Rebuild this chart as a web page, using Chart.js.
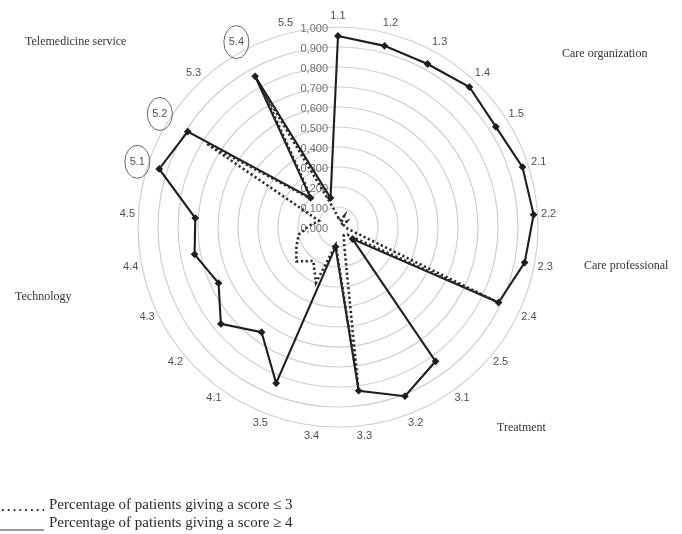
<!DOCTYPE html>
<html><head><meta charset="utf-8">
<script src="https://cdn.jsdelivr.net/npm/chart.js@4/dist/chart.umd.min.js"></script>
<style>html,body{margin:0;padding:0;background:#fff;} #wrap{width:682px;height:534px;position:relative;}</style>
</head><body><div id="wrap"><canvas id="c"></canvas></div>
<script>
const categories = ['1.1','1.2','1.3','1.4','1.5','2.1','2.2','2.3','2.4','2.5','3.1','3.2','3.3','3.4','3.5','4.1','4.2','4.3','4.4','4.5','5.1','5.2','5.3','5.4','5.5'];
const scoreLow  = [0.05,0.03,0.06,0.02,0.05,0.03,0.04,0.05,0.87,0.06,0.05,0.08,0.80,0.09,0.30,0.21,0.27,0.23,0.20,0.14,0.10,0.78,0.19,0.78,0.10];
const scoreHigh = [0.955,0.935,0.93,0.96,0.935,0.97,0.98,0.95,0.887,0.095,0.83,0.91,0.825,0.10,0.84,0.65,0.76,0.66,0.73,0.715,0.94,0.89,0.20,0.86,0.15];
const tickValues = [0,0.1,0.2,0.3,0.4,0.5,0.6,0.7,0.8,0.9,1.0];
const tickLabels = ['0,000','0,100','0,200','0,300','0,400','0,500','0,600','0,700','0,800','0,900','1,000'];
const circledLabels = ['5.1','5.2','5.4'];
const groupNames = ['Care organization','Care professional','Treatment','Technology','Telemedicine service'];
const legendLabels = ['Percentage of patients giving a score \u2264 3','Percentage of patients giving a score \u2265 4'];

const groupPos = [[562,54],[584,266],[497,428],[15,297],[25,42]];

const overlay = {
  id: 'overlay',
  beforeDatasetsDraw(chart) {
    const ctx = chart.ctx, r = chart.scales.r;
    ctx.save();
    ctx.font = '11px "Liberation Sans", Arial, sans-serif';
    ctx.fillStyle = '#707070';
    ctx.textAlign = 'right';
    ctx.textBaseline = 'middle';
    tickValues.forEach((v, i) => {
      const d = r.getDistanceFromCenterForValue(v);
      ctx.fillText(tickLabels[i], r.xCenter - 10, r.yCenter - d + 2);
    });
    ctx.restore();
  },
  afterDraw(chart) {
    const ctx = chart.ctx, r = chart.scales.r;
    ctx.save();
    ctx.font = '11px "Liberation Sans", Arial, sans-serif';
    ctx.fillStyle = '#505050';
    ctx.textAlign = 'center';
    ctx.textBaseline = 'middle';
    ctx.strokeStyle = '#666';
    ctx.lineWidth = 1;
    categories.forEach((lab, i) => {
      const p = r.getPointPosition(i, r.drawingArea + 11);
      ctx.fillText(lab, p.x, p.y);
      if (circledLabels.includes(lab)) {
        ctx.beginPath();
        ctx.ellipse(p.x, p.y, 12.5, 16.5, 0, 0, Math.PI * 2);
        ctx.stroke();
      }
    });
    ctx.font = '12px "Liberation Serif", "Times New Roman", serif';
    ctx.fillStyle = '#333';
    ctx.textAlign = 'left';
    groupNames.forEach((g, i) => ctx.fillText(g, groupPos[i][0], groupPos[i][1]));
    // legend
    ctx.font = '15px "Liberation Serif", "Times New Roman", serif';
    ctx.fillStyle = '#2a2a2a';
    ctx.fillText(legendLabels[0], 49, 505);
    ctx.fillText(legendLabels[1], 49, 523);
    ctx.strokeStyle = '#333';
    ctx.lineWidth = 1.8;
    ctx.setLineDash([1.8, 4]);
    ctx.beginPath(); ctx.moveTo(2, 510); ctx.lineTo(44, 510); ctx.stroke();
    ctx.setLineDash([]);
    ctx.lineWidth = 1.2;
    ctx.beginPath(); ctx.moveTo(0, 530); ctx.lineTo(44, 530); ctx.stroke();
    ctx.restore();
  }
};

new Chart(document.getElementById('c'), {
  type: 'radar',
  data: {
    labels: categories,
    datasets: [
      {
        label: legendLabels[0],
        data: scoreLow,
        borderColor: '#2a2a2a',
        borderWidth: 2.6,
        borderDash: [2.2, 2.6],
        borderCapStyle: 'butt',
        pointRadius: 0,
        fill: false,
        tension: 0
      },
      {
        label: legendLabels[1],
        data: scoreHigh,
        borderColor: '#1e1e1e',
        borderWidth: 2.1,
        pointRadius: 2.4,
        pointStyle: 'rectRot',
        pointBackgroundColor: '#1e1e1e',
        pointBorderColor: '#1e1e1e',
        fill: false,
        tension: 0
      }
    ]
  },
  options: {
    responsive: true,
    maintainAspectRatio: false,
    animation: false,
    layout: { padding: { left: 138, right: 144, top: 27, bottom: 107 } },
    plugins: { legend: { display: false }, tooltip: { enabled: false } },
    scales: {
      r: {
        min: 0,
        max: 1,
        ticks: { display: false, stepSize: 0.1 },
        pointLabels: { display: false },
        angleLines: { display: false },
        grid: { color: '#cfcfcf', lineWidth: 1.2, circular: true }
      }
    }
  },
  plugins: [overlay]
});
</script>
</body></html>
